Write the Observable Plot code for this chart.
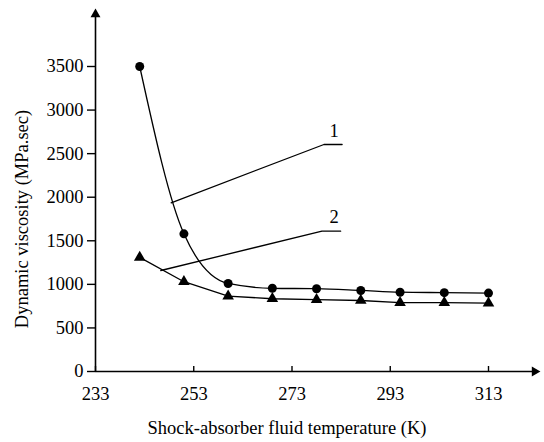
<!DOCTYPE html>
<html>
<head>
<meta charset="utf-8">
<script src="https://cdn.jsdelivr.net/npm/d3@7"></script>
<script src="https://cdn.jsdelivr.net/npm/@observablehq/plot@0.6"></script>
<style>
  html, body { margin: 0; padding: 0; background: #fff; }
  svg text { font-family: "Liberation Serif", "Times New Roman", serif !important; font-variant: normal !important; }
</style>
</head>
<body>
<div id="chart"></div>
<script>
// Data
const temps = [242, 251, 260, 269, 278, 287, 295, 304, 313];
const fluid1 = [3500, 1580, 1010, 955, 950, 930, 910, 905, 900];
const fluid2 = [1310, 1030, 865, 835, 825, 815, 790, 790, 785];

const xTicks = [233, 253, 273, 293, 313];
const yTicks = [0, 500, 1000, 1500, 2000, 2500, 3000, 3500];

const xLabel = "Shock-absorber fluid temperature (K)";
const yLabel = "Dynamic viscosity (MPa.sec)";

// Leader lines for the curve labels (data coordinates)
const leader1X = [248.4, 279.5, 283.2];
const leader1Y = [1936, 2605, 2605];
const leader2X = [246.3, 279.1, 282.9];
const leader2Y = [1159, 1610, 1610];
const curveLabels = ["1", "2"];
const curveLabelX = [281.6, 281.6];
const curveLabelY = [2758, 1771];

// Axis extents (arrow positions beyond the domain)
const xAxisEnd = 322.4;
const yAxisEnd = 4099;

const s1 = temps.map((t, i) => ({t, v: fluid1[i]}));
const s2 = temps.map((t, i) => ({t, v: fluid2[i]}));
const l1 = leader1X.map((x, i) => ({x, y: leader1Y[i]}));
const l2 = leader2X.map((x, i) => ({x, y: leader2Y[i]}));
const labs = curveLabels.map((text, i) => ({text, x: curveLabelX[i], y: curveLabelY[i]}));

const FONT = "Liberation Serif";
const FS = 18.5;

const chart = Plot.plot({
  width: 544,
  height: 442,
  marginLeft: 95,
  marginRight: 56,
  marginTop: 66,
  marginBottom: 71,
  style: {fontFamily: FONT, fontSize: FS + "px", color: "black", background: "white"},
  x: {domain: [233, 313]},
  y: {domain: [0, 3500]},
  marks: [
    // axis lines
    Plot.ruleX([233], {y1: 0, y2: yAxisEnd, stroke: "black", strokeWidth: 1.6}),
    Plot.ruleY([0], {x1: 233, x2: xAxisEnd, stroke: "black", strokeWidth: 1.6}),
    Plot.dot([{x: 233, y: yAxisEnd}], {x: "x", y: "y", symbol: "triangle", r: 3.7, fill: "black", stroke: null}),
    Plot.dot([{x: xAxisEnd, y: 0}], {x: "x", y: "y", symbol: "triangle", r: 3.7, rotate: 90, fill: "black", stroke: null}),
    Plot.axisY({ticks: yTicks, tickSize: 8, tickPadding: 4, label: null, tickFormat: d => String(d), fontSize: FS, fontFamily: FONT, fontVariant: "normal", strokeWidth: 1.4}),
    Plot.axisX({ticks: xTicks, tickSize: -5, tickPadding: 20, label: null, tickFormat: d => String(d), fontSize: FS, fontFamily: FONT, fontVariant: "normal", strokeWidth: 1.4}),
    Plot.text([yLabel], {frameAnchor: "left", dx: -73, rotate: -90, textAnchor: "middle", lineAnchor: "middle", fontSize: FS, fontFamily: FONT, fill: "black"}),
    Plot.text([xLabel], {frameAnchor: "bottom", dy: 57, dx: -5, textAnchor: "middle", lineAnchor: "middle", fontSize: FS, fontFamily: FONT, fill: "black"}),
    // series
    Plot.line(s1, {x: "t", y: "v", curve: "monotone-x", stroke: "black", strokeWidth: 1.3}),
    Plot.line(s2, {x: "t", y: "v", stroke: "black", strokeWidth: 1.3}),
    Plot.dot(s1, {x: "t", y: "v", r: 4.5, fill: "black", stroke: null}),
    Plot.dot(s2, {x: "t", y: "v", symbol: "triangle", r: 4.3, fill: "black", stroke: null}),
    // leaders and labels
    Plot.line(l1, {x: "x", y: "y", stroke: "black", strokeWidth: 1.3}),
    Plot.line(l2, {x: "x", y: "y", stroke: "black", strokeWidth: 1.3}),
    Plot.text(labs, {x: "x", y: "y", text: "text", fontSize: FS, fontFamily: FONT, fill: "black"})
  ]
});
document.getElementById("chart").appendChild(chart);
</script>
</body>
</html>
